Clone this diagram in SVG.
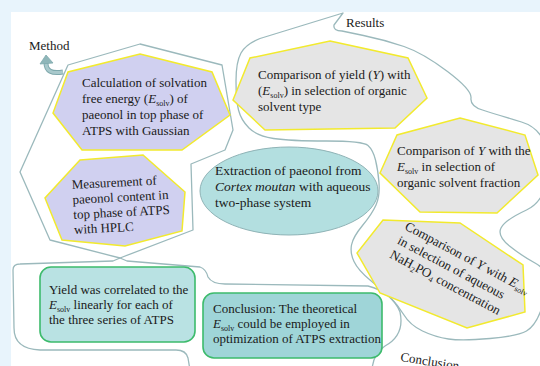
<svg xmlns="http://www.w3.org/2000/svg" width="540" height="366" viewBox="0 0 540 366">
<style>
.t{font-family:"Liberation Serif","Times New Roman",serif;font-size:13px;fill:#1a1a1a}
.i{font-style:italic}
.s{font-size:8px}
.ol{fill:none;stroke:#9bb9bc;stroke-width:1.3;stroke-linejoin:round}
.hexL{fill:#d0d0f0;stroke:#f2ea2e;stroke-width:1.5}
.hexG{fill:#e5e5e5;stroke:#f2ea2e;stroke-width:1.5}
.box{stroke:#3dbb6c;stroke-width:1.6}
</style>
<rect x="0" y="0" width="540" height="366" fill="#e8f4fc"/>
<rect x="11" y="12" width="529" height="354" fill="#ffffff"/>

<g id="outlines">
<polygon class="ol" points="68,65 140,44 222,65 233,130 225,150 191,164 193,230 120,258 50,240 20,172"/>
<path class="ol" d="M343,13 L334,25 Q333,31 342,31 L363.5,35.5 Q385,40 404,46.5 Q423,53 447.5,71.5 Q472,90 471,98 Q470,106 482.5,110 Q495,114 521.5,122 Q548,130 548,165 Q548,200 526.5,210 Q505,220 501,228 Q497,236 509.5,246 Q522,256 535,263 Q548,270 547,283.5 Q546,297 540.5,311.5 Q535,326 526.5,331 Q518,336 490,338.5 Q462,341 448.5,339 Q435,337 422.5,331 Q410,325 404,315 Q398,305 390,297.5 Q382,290 370,280 Q358,270 354,261.5 Q350,253 351.5,245 Q353,237 362.5,225.5 Q372,214 376,205 Q380,196 379,183 Q378,170 375.5,160 Q373,150 368,145.5 Q363,141 326.5,141 Q290,141 273.5,138.5 Q257,136 249,128 Q241,120 238.5,110 Q236,100 236,81 Q236,62 241,53 Q246,44 260,38.5 Z"/>
<path class="ol" d="M190,370 L188,358 Q186,350 176,350 L40,350 Q14,349 14,328 L13,270 Q13,264 20,264 L113,261 L120,258 L127,261 L200,267 Q206,269 208,277 Q212,284 225,284 L368,286 Q392,292 400,312 Q405,335 385,346 Q373,354 372,370"/>
</g>

<g id="labels">
<text class="t" x="29" y="50">Method</text>
<path d="M63,72 Q46,75 46,63" fill="none" stroke="#7fa9ad" stroke-width="5"/>
<path d="M63,72 Q46,75 46,63" fill="none" stroke="#a9c9cc" stroke-width="3"/>
<polygon points="40,64 53,63 46,55" fill="#8fb6b9" stroke="#7fa9ad" stroke-width="0.8"/>
<text class="t" x="346" y="27">Results</text>
<text class="t" transform="translate(400,361) rotate(9)">Conclusion</text>
</g>

<g id="n1">
<polygon class="hexL" points="140,54 212,72 230,115 182,150 82,150 53,113 68,72"/>
<text class="t"><tspan x="82" y="87">Calculation of solvation</tspan><tspan x="82" y="103">free energy (<tspan class="i">E</tspan><tspan class="s" dy="2.5">solv</tspan><tspan dy="-2.5">) of</tspan></tspan><tspan x="82" y="119">paeonol in top phase of</tspan><tspan x="82" y="135">ATPS with Gaussian</tspan></text>
</g>

<g id="n2">
<polygon class="hexL" points="80,160 143,155 185,192 182,231 125,246 62,240 45,198"/>
<text class="t" transform="rotate(-3 72 189)"><tspan x="72" y="189">Measurement of</tspan><tspan x="72" y="204">paeonol content in</tspan><tspan x="72" y="219">top phase of ATPS</tspan><tspan x="72" y="234">with HPLC</tspan></text>
</g>

<g id="n3">
<ellipse cx="289" cy="191" rx="89" ry="44" fill="#b3dfe0" stroke="#8fb3b6" stroke-width="1"/>
<text class="t" style="font-size:13.5px"><tspan x="215" y="175">Extraction of paeonol from</tspan><tspan x="215" y="191"><tspan class="i">Cortex moutan</tspan> with aqueous</tspan><tspan x="215" y="207">two-phase system</tspan></text>
</g>

<g id="n4">
<polygon class="hexG" points="330,41 408,58 427,98 395,128 265,130 233,100 250,58"/>
<text class="t"><tspan x="258" y="79">Comparison of yield (<tspan class="i">Y</tspan>) with</tspan><tspan x="258" y="95">(<tspan class="i">E</tspan><tspan class="s" dy="2.5">solv</tspan><tspan dy="-2.5">) in selection of organic</tspan></tspan><tspan x="258" y="111">solvent type</tspan></text>
</g>

<g id="n5">
<polygon class="hexG" points="460,118 525,135 538,175 497,213 420,212 380,173 397,135"/>
<text class="t"><tspan x="397" y="155">Comparison of <tspan class="i">Y</tspan> with the</tspan><tspan x="397" y="171"><tspan class="i">E</tspan><tspan class="s" dy="2.5">solv</tspan><tspan dy="-2.5"> in selection of</tspan></tspan><tspan x="397" y="187">organic solvent fraction</tspan></text>
</g>

<g id="n6">
<polygon class="hexG" points="383,220 460,223 523,265 525,312 467,328 380,293 357,253"/>
<text class="t" transform="translate(404,229) rotate(28)"><tspan x="0" y="0">Comparison of <tspan class="i">Y</tspan> with <tspan class="i">E</tspan><tspan class="s" dy="2.5">solv</tspan></tspan><tspan x="0" y="16">in selection of aqueous</tspan><tspan x="0" y="32">NaH<tspan class="s" dy="2.5">2</tspan><tspan dy="-2.5">PO</tspan><tspan class="s" dy="2.5">4</tspan><tspan dy="-2.5"> concentration</tspan></tspan></text>
</g>

<g id="n7">
<rect class="box" x="40" y="267" width="155" height="75" rx="11" fill="#b9e2e3"/>
<text class="t"><tspan x="49" y="294">Yield was correlated to the</tspan><tspan x="49" y="309"><tspan class="i">E</tspan><tspan class="s" dy="2.5">solv</tspan><tspan dy="-2.5"> linearly for each of</tspan></tspan><tspan x="49" y="324">the three series of ATPS</tspan></text>
</g>

<g id="n8">
<rect class="box" x="203" y="293" width="179" height="65" rx="11" fill="#9fd5d8"/>
<text class="t"><tspan x="213" y="313">Conclusion: The theoretical</tspan><tspan x="213" y="328"><tspan class="i">E</tspan><tspan class="s" dy="2.5">solv</tspan><tspan dy="-2.5"> could be employed in</tspan></tspan><tspan x="213" y="343">optimization of ATPS extraction</tspan></text>
</g>
</svg>
